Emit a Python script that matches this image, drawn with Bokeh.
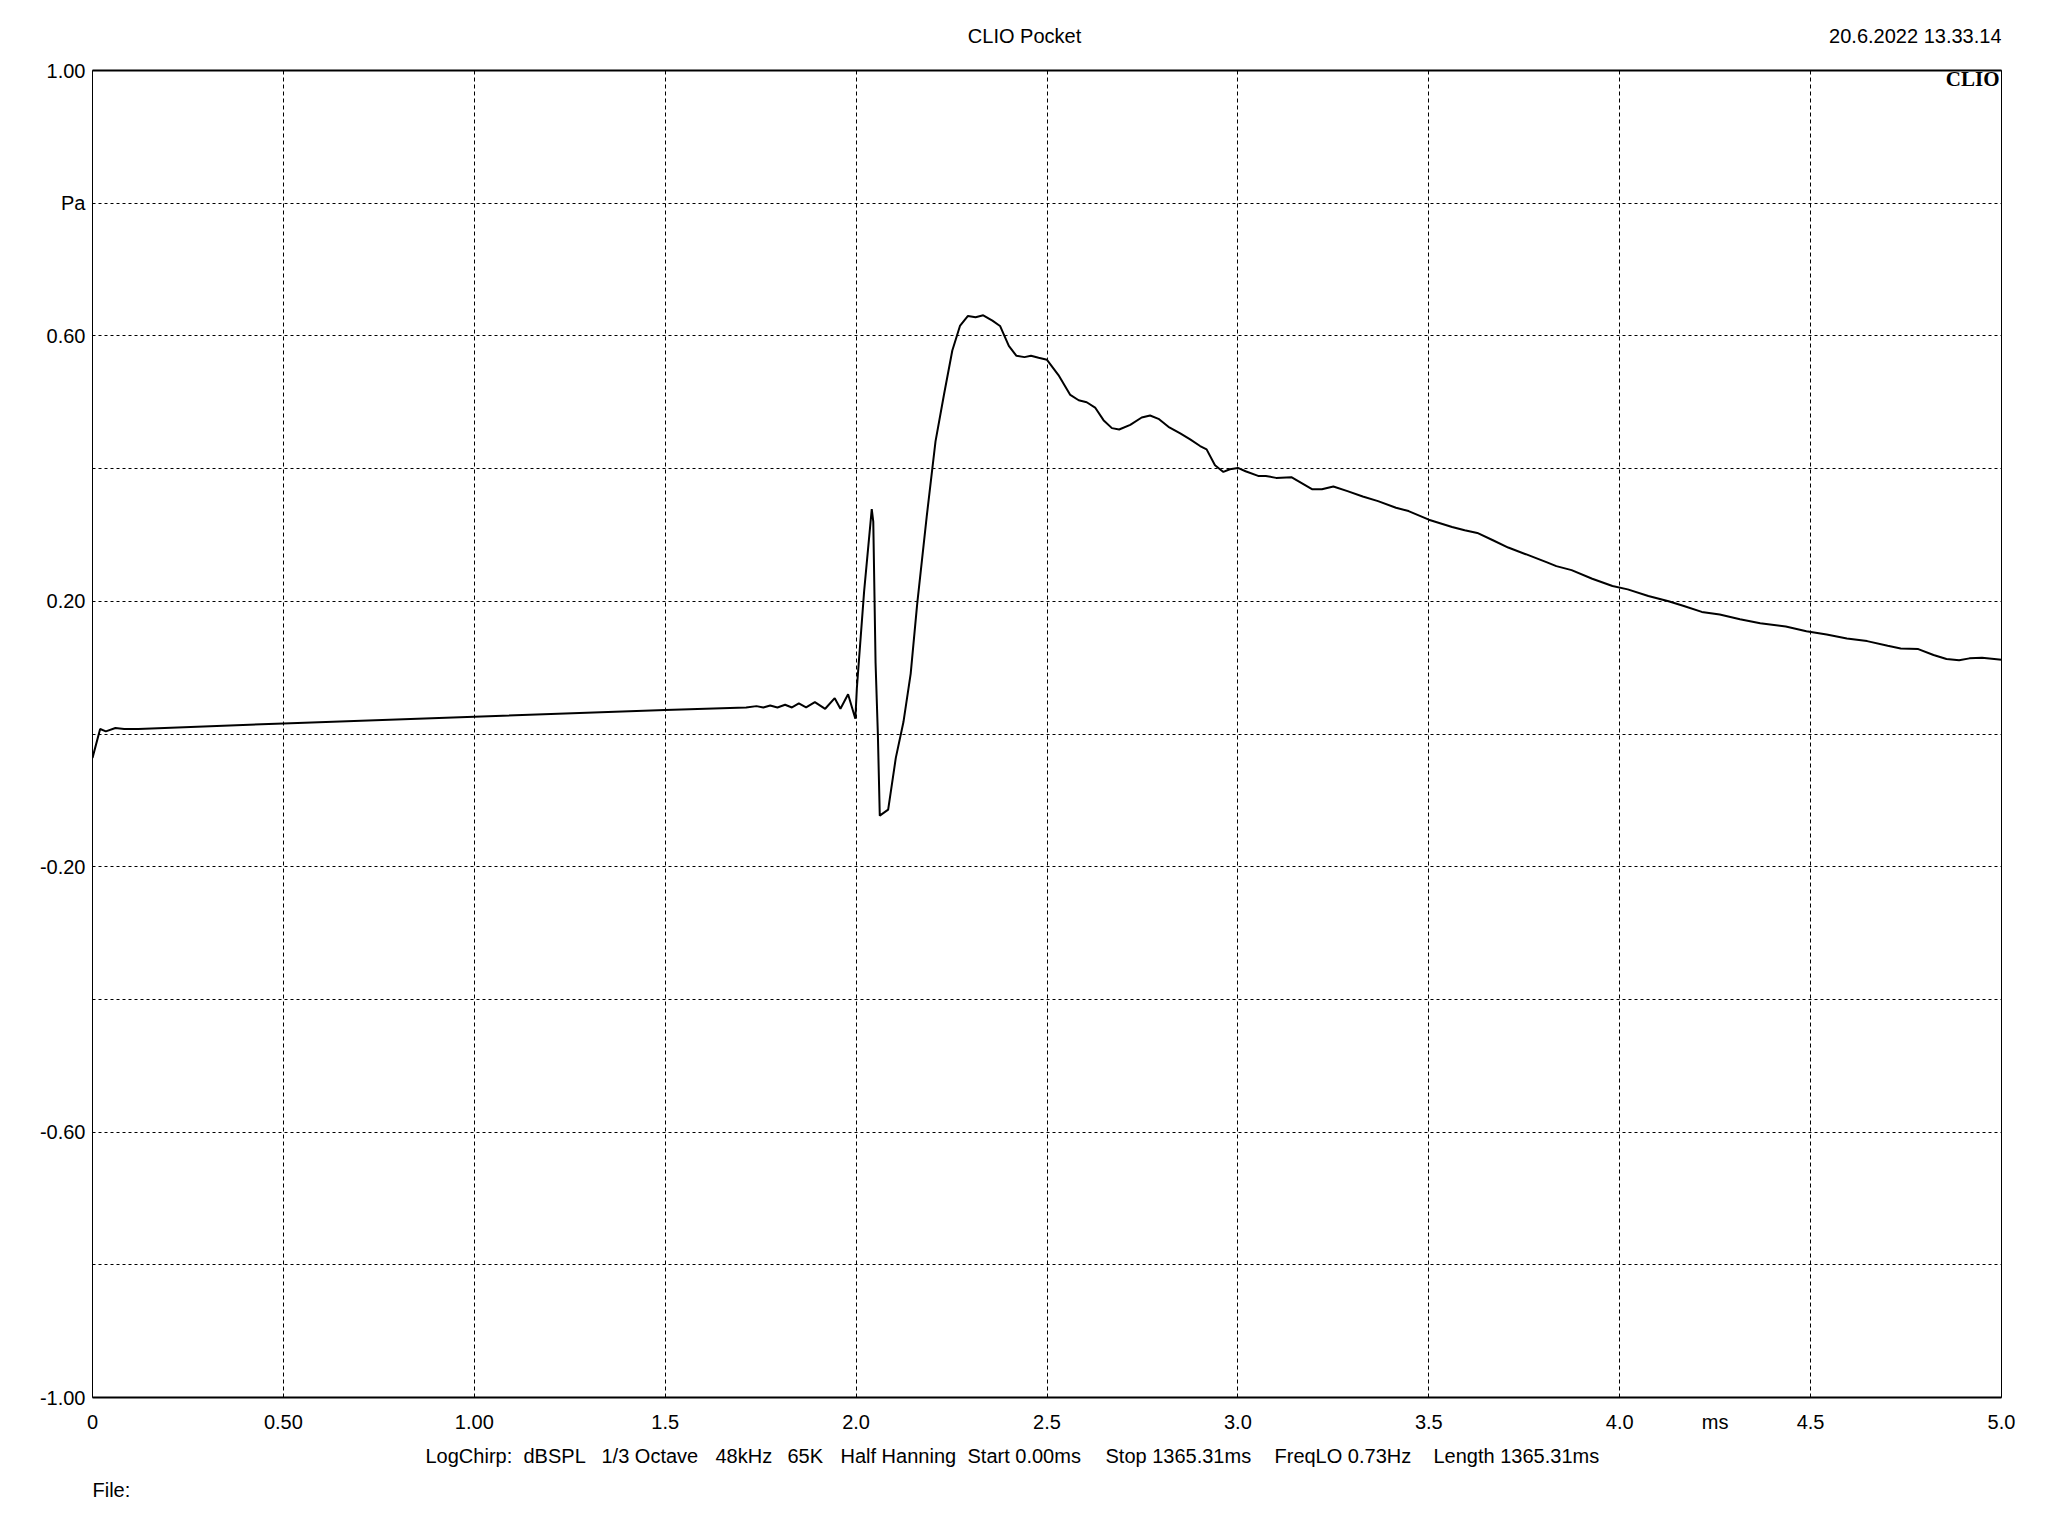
from bokeh.plotting import figure
from bokeh.layouts import column
from bokeh.models import FixedTicker, Label, LinearAxis, Range1d
from bokeh.embed import file_html
from bokeh.resources import INLINE

# ---- data (time in ms, pressure in Pa) ----
t_ms = [0.0, 0.02, 0.035, 0.06, 0.083, 0.12, 0.5, 1.0, 1.5, 1.712, 1.739, 1.757,
        1.775, 1.794, 1.814, 1.832, 1.850, 1.869, 1.892, 1.919, 1.944, 1.959,
        1.979, 1.998, 2.002, 2.021, 2.041, 2.045, 2.051, 2.057, 2.062, 2.084,
        2.104, 2.124, 2.143, 2.160, 2.185, 2.208, 2.230, 2.252, 2.272, 2.293,
        2.313, 2.333, 2.357, 2.377, 2.400, 2.420, 2.441, 2.458, 2.478, 2.500,
        2.530, 2.561, 2.583, 2.604, 2.626, 2.648, 2.670, 2.689, 2.718, 2.748,
        2.770, 2.792, 2.818, 2.849, 2.875, 2.901, 2.918, 2.940, 2.962, 2.979,
        3.000, 3.020, 3.053, 3.073, 3.100, 3.140, 3.167, 3.194, 3.220, 3.250,
        3.287, 3.327, 3.367, 3.414, 3.447, 3.500, 3.561, 3.594, 3.627, 3.668,
        3.708, 3.754, 3.808, 3.834, 3.874, 3.928, 3.981, 4.021, 4.075, 4.128,
        4.168, 4.215, 4.262, 4.315, 4.368, 4.435, 4.489, 4.542, 4.595, 4.648,
        4.702, 4.736, 4.782, 4.822, 4.856, 4.889, 4.916, 4.949, 5.000]
p_pa = [-0.036, 0.0075, 0.004, 0.009, 0.0075, 0.0075, 0.016, 0.026, 0.036, 0.040,
        0.042, 0.040, 0.043, 0.040, 0.044, 0.040, 0.046, 0.040, 0.048, 0.038,
        0.054, 0.038, 0.060, 0.023, 0.069, 0.215, 0.339, 0.320, 0.107, 0.0,
        -0.123, -0.114, -0.036, 0.018, 0.091, 0.196, 0.328, 0.441, 0.511, 0.578,
        0.615, 0.630, 0.628, 0.631, 0.623, 0.615, 0.585, 0.570, 0.568, 0.570,
        0.567, 0.564, 0.541, 0.511, 0.503, 0.500, 0.492, 0.473, 0.461, 0.459,
        0.466, 0.477, 0.480, 0.475, 0.463, 0.453, 0.444, 0.434, 0.429, 0.405,
        0.395, 0.399, 0.401, 0.396, 0.389, 0.389, 0.386, 0.387, 0.378, 0.369,
        0.369, 0.373, 0.366, 0.358, 0.351, 0.341, 0.336, 0.323, 0.312, 0.307,
        0.303, 0.292, 0.281, 0.271, 0.259, 0.253, 0.247, 0.234, 0.223, 0.218,
        0.208, 0.200, 0.193, 0.184, 0.180, 0.173, 0.167, 0.162, 0.155, 0.150,
        0.144, 0.140, 0.133, 0.129, 0.128, 0.119, 0.113, 0.111, 0.114, 0.115,
        0.112]

x_tick_values = [0, 0.5, 1.0, 1.5, 2.0, 2.5, 3.0, 3.5, 4.0, 4.25, 4.5, 5.0]
x_tick_labels = ["0", "0.50", "1.00", "1.5", "2.0", "2.5", "3.0", "3.5", "4.0", "ms", "4.5", "5.0"]
y_tick_values = [1.0, 0.8, 0.6, 0.2, -0.2, -0.6, -1.0]
y_tick_labels = ["1.00", "Pa", "0.60", "0.20", "-0.20", "-0.60", "-1.00"]
x_grid_values = [0.5, 1.0, 1.5, 2.0, 2.5, 3.0, 3.5, 4.0, 4.5]
y_grid_values = [-0.8, -0.6, -0.4, -0.2, 0.0, 0.2, 0.4, 0.6, 0.8]

title_text = "CLIO Pocket"
date_text = "20.6.2022 13.33.14"
logo_text = "CLIO"
footer_items = ["LogChirp:", "dBSPL", "1/3 Octave", "48kHz", "65K", "Half Hanning",
                "Start 0.00ms", "Stop 1365.31ms", "FreqLO 0.73Hz", "Length 1365.31ms"]
file_text = "File:"

# ---- styling / layout ----
FONT = "Liberation Sans"
FS = "20px"
W = 2032
HEAD_H, MAIN_H, FOOT_H = 50, 1390, 80
ML, MR, MT, MB = 92, 31, 20, 43
FW, FH = W - ML - MR, MAIN_H - MT - MB
X0, X1 = ML, W - MR          # page x span of the plot frame (shared by the strips)
footer_x = [425, 523, 601, 715, 787, 840, 967, 1105, 1274, 1433]


def text_strip(height):
    f = figure(width=W, height=height, x_range=Range1d(X0, X1), y_range=Range1d(0, height),
               output_backend="svg", toolbar_location=None,
               x_axis_location=None, y_axis_location=None,
               min_border=0, min_border_left=ML, min_border_right=MR,
               min_border_top=0, min_border_bottom=0)
    f.outline_line_color = None
    f.xgrid.visible = False
    f.ygrid.visible = False
    f.background_fill_color = "white"
    f.border_fill_color = "white"
    return f


def lab(fig, text, x, y, align="left", font=FONT, size=FS, style="normal", units="data"):
    fig.add_layout(Label(x=x, y=y, x_units=units, y_units=units, text=text,
                         text_align=align, text_baseline="middle", text_font=font,
                         text_font_size=size, text_font_style=style, text_color="black"))


# header
head = text_strip(HEAD_H)
lab(head, title_text, 1024, HEAD_H - 35, align="center")
lab(head, date_text, 2001, HEAD_H - 35, align="right")

# main plot
p = figure(width=W, height=MAIN_H, x_range=Range1d(0, 5), y_range=Range1d(-1, 1),
           output_backend="svg", toolbar_location=None,
           min_border_left=ML, min_border_right=MR, min_border_top=MT, min_border_bottom=MB)
p.background_fill_color = "white"
p.border_fill_color = "white"
p.outline_line_color = "black"
p.outline_line_width = 1

xa = p.xaxis[0]
xa.ticker = FixedTicker(ticks=x_tick_values)
xa.major_label_overrides = {v: l for v, l in zip(x_tick_values, x_tick_labels)}
xa.major_tick_line_color = None
xa.major_tick_out = 0
xa.minor_tick_line_color = None
xa.axis_line_color = "black"
xa.axis_line_width = 2
xa.major_label_standoff = 13
xa.major_label_text_font = FONT
xa.major_label_text_font_size = FS
xa.major_label_text_color = "black"

ya = p.yaxis[0]
ya.ticker = FixedTicker(ticks=y_tick_values)
ya.major_label_overrides = {v: l for v, l in zip(y_tick_values, y_tick_labels)}
ya.major_tick_line_color = None
ya.major_tick_out = 0
ya.minor_tick_line_color = None
ya.axis_line_color = None
ya.major_label_standoff = 7
ya.major_label_text_font = FONT
ya.major_label_text_font_size = FS
ya.major_label_text_color = "black"

top_axis = LinearAxis(ticker=FixedTicker(ticks=[]), axis_line_width=2,
                      axis_line_color="black", major_tick_line_color=None,
                      major_tick_out=0, minor_tick_line_color=None,
                      major_label_text_font_size="0px")
p.add_layout(top_axis, "above")

p.xgrid.ticker = FixedTicker(ticks=x_grid_values)
p.xgrid.grid_line_color = "black"
p.xgrid.grid_line_dash = "4 3"
p.xgrid.grid_line_width = 1
p.ygrid.ticker = FixedTicker(ticks=y_grid_values)
p.ygrid.grid_line_color = "black"
p.ygrid.grid_line_dash = "3 3"
p.ygrid.grid_line_width = 1

p.line(t_ms, p_pa, line_color="black", line_width=2)

lab(p, logo_text, FW - 2, FH - 8, align="right", font="Liberation Serif",
    size="21px", style="bold", units="screen")

# footer
foot = text_strip(FOOT_H)
for item, fx in zip(footer_items, footer_x):
    lab(foot, item, fx, FOOT_H - 15)
lab(foot, file_text, 92, FOOT_H - 49)

layout = column(head, p, foot, spacing=0)
open("out.html", "w").write(file_html(layout, INLINE))
